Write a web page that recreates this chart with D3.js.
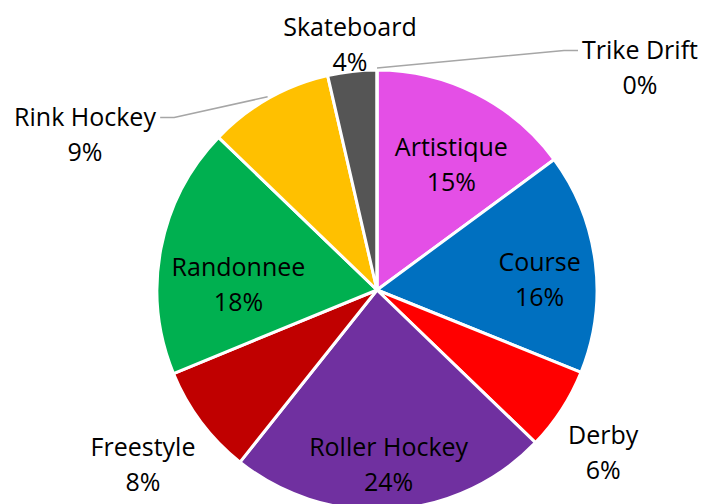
<!DOCTYPE html>
<html>
<head>
<meta charset="utf-8">
<script src="https://d3js.org/d3.v7.min.js"></script>
<style>
  body { margin: 0; background: #fff; }
  text { font-family: "Open Sans", sans-serif; fill: #000; }
</style>
</head>
<body>
<div id="chart"></div>
<script>
// data (percent of total)
const categories = ["Artistique", "Course", "Derby", "Roller Hockey", "Freestyle", "Randonnee", "Rink Hockey", "Skateboard", "Trike Drift"];
const values = [14.9, 16.2, 6.1, 23.5, 8.1, 18.4, 9.2, 3.6, 0.0];
const pctLabels = ["15%", "16%", "6%", "24%", "8%", "18%", "9%", "4%", "0%"];
const colors = ["#E44FE6", "#0070C0", "#FF0000", "#7030A0", "#C00000", "#00B050", "#FFC000", "#555555", "#A5A5A5"];

// label layout: radius factor + angle shift (deg), or an offset from the centre for the small slices
const labelLayout = {
  "Artistique":    { r: 0.66, da: 4 },
  "Course":        { r: 0.74, da: 4 },
  "Derby":         { r: 1.27, da: 3 },
  "Roller Hockey": { r: 0.80, da: 0 },
  "Freestyle":     { r: 1.33, da: 0 },
  "Randonnee":     { r: 0.63, da: -9 },
  "Rink Hockey":   { dx: -292, dy: -155, leader: true },
  "Skateboard":    { dx: -27, dy: -245 },
  "Trike Drift":   { dx: 263, dy: -222, leader: true }
};

const width = 707, height = 504;
const cx = 377, cy = 290, radius = 220;

const svg = d3.select("#chart").append("svg")
  .attr("width", width)
  .attr("height", height);

const g = svg.append("g").attr("transform", `translate(${cx},${cy})`);

const data = categories.map((c, i) => ({ name: c, value: values[i], pct: pctLabels[i], color: colors[i] }));

const pie = d3.pie().sort(null).value(d => d.value);
const arcs = pie(data);
const arc = d3.arc().innerRadius(0).outerRadius(radius);

g.selectAll("path.slice")
  .data(arcs)
  .enter()
  .append("path")
  .attr("class", "slice")
  .attr("d", arc)
  .attr("fill", d => d.data.color)
  .attr("stroke", "#fff")
  .attr("stroke-width", 3)
  .attr("stroke-linejoin", "round");

const lineH = 35;

arcs.forEach(a => {
  const lay = labelLayout[a.data.name];
  let x, y;
  if (lay.dx !== undefined) {
    x = lay.dx; y = lay.dy;
  } else {
    const mid = (a.startAngle + a.endAngle) / 2 + lay.da * Math.PI / 180;
    x = Math.sin(mid) * radius * lay.r;
    y = -Math.cos(mid) * radius * lay.r;
  }
  const t = g.append("text")
    .attr("text-anchor", "middle")
    .attr("font-size", 25);
  t.append("tspan").attr("x", x).attr("y", y - lineH / 2 + 8).text(a.data.name);
  t.append("tspan").attr("x", x).attr("y", y + lineH / 2 + 8).text(a.data.pct);

  if (lay.leader) {
    // leader from the slice edge to the label
    const mid = (a.startAngle + a.endAngle) / 2;
    const ex = Math.sin(mid) * (radius + 2), ey = -Math.cos(mid) * (radius + 2);
    const bb = t.node().getBBox();
    const side = x < 0 ? 1 : -1;
    const lx = x + side * (bb.width / 2 + 4);
    const ly = y - lineH / 2;
    g.append("path")
      .attr("d", `M${ex},${ey}L${lx + side * 14},${ly}L${lx},${ly}`)
      .attr("fill", "none")
      .attr("stroke", "#A6A6A6")
      .attr("stroke-width", 1.5);
  }
});
</script>
</body>
</html>
